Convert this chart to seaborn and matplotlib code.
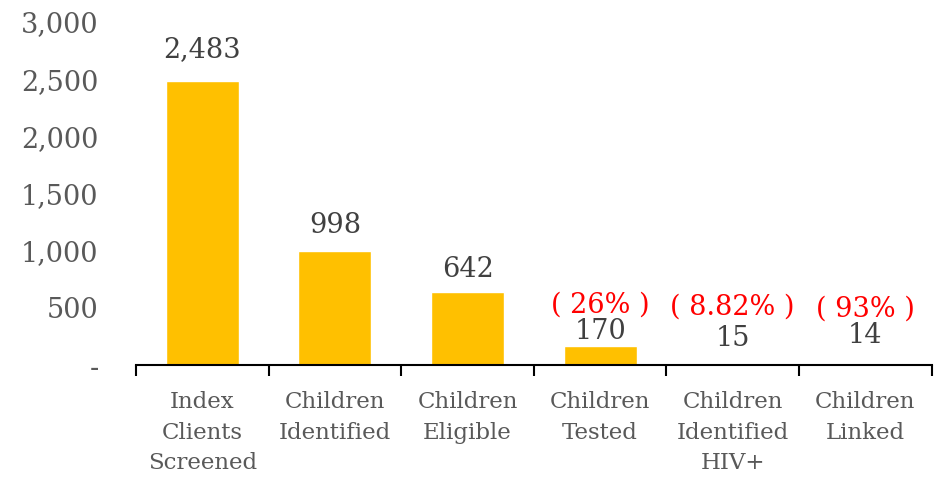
import matplotlib
matplotlib.use("Agg")
import matplotlib.pyplot as plt
import seaborn as sns
import pandas as pd
import numpy as np
from matplotlib.ticker import FuncFormatter, FixedLocator

categories = ["Index\nClients\nScreened", "Children\nIdentified", "Children\nEligible",
              "Children\nTested", "Children\nIdentified\nHIV+", "Children\nLinked"]
values = [2483, 998, 642, 170, 15, 14]
pct_labels = [None, None, None, "( 26% )", "( 8.82% )", "( 93% )"]
yticks = [0, 500, 1000, 1500, 2000, 2500, 3000]

# label offsets above bar top (pixels) - styling
val_offsets = [31, 25, 22, 14, 25, 28]
pct_offsets = [0, 0, 0, 40, 56, 54]

sns.set_theme(style="white")
plt.rcParams['font.family'] = ['DejaVu Serif']

df = pd.DataFrame({"cat": categories, "val": values})
fig = plt.figure(figsize=(9.42, 4.87), dpi=100)
ax = fig.add_axes([0.1444, 0.2505, 0.8446, 0.7045])
sns.barplot(data=df, x="cat", y="val", color="#FFC000", width=0.55, ax=ax, saturation=1)

ax.set_ylim(0, 3000)
ax.set_xlim(-0.5, len(categories) - 0.5)
ax.yaxis.set_major_locator(FixedLocator(yticks))
ax.yaxis.set_major_formatter(FuncFormatter(lambda v, p: "-" if v == 0 else f"{int(v):,}"))
ax.tick_params(axis="y", length=0, pad=27, labelsize=19.5, labelcolor="#595959")
ax.set_xticks(np.arange(-0.5, len(categories), 1.0), minor=True)
ax.tick_params(axis="x", which="major", bottom=False, length=0, pad=19, labelsize=16.5, labelcolor="#595959")
ax.tick_params(axis="x", which="minor", bottom=True, length=8, width=1.5, color="black", direction="out")
for lbl in ax.get_xticklabels():
    lbl.set_linespacing(1.5)
ax.set_xlabel("")
ax.set_ylabel("")
for s in ["left", "right", "top"]:
    ax.spines[s].set_visible(False)
ax.spines["bottom"].set_color("black")
ax.spines["bottom"].set_linewidth(1.5)
ax.grid(False)

for i, v in enumerate(values):
    ax.annotate(f"{v:,}", xy=(i, v), xytext=(0, val_offsets[i]), textcoords="offset pixels",
                ha="center", va="center", fontsize=19.5, color="#404040")
    if pct_labels[i]:
        ax.annotate(pct_labels[i], xy=(i, v), xytext=(0, pct_offsets[i]), textcoords="offset pixels",
                    ha="center", va="center", fontsize=19.5, color="#FF0000")

fig.savefig("out.png", dpi=100)
